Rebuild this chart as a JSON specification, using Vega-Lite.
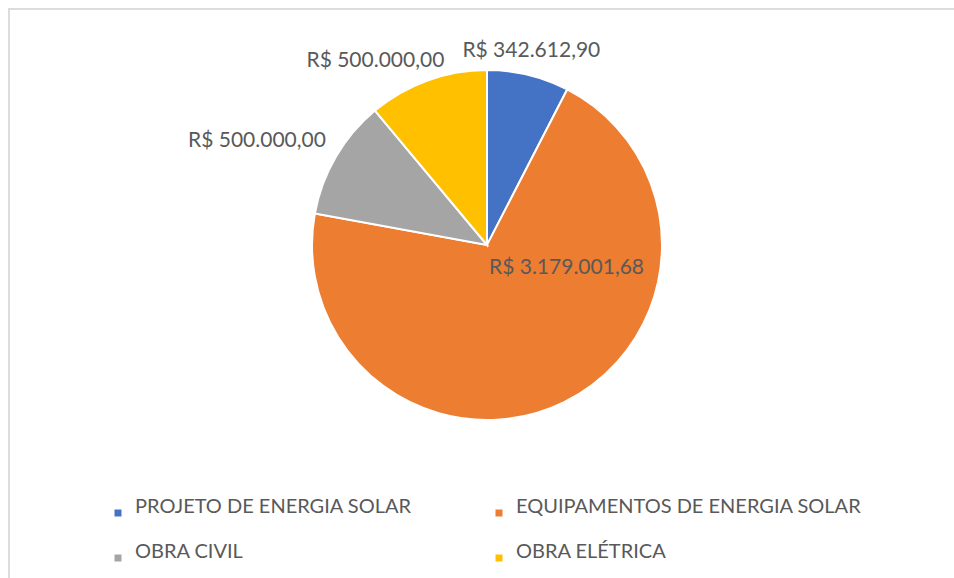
{
  "$schema": "https://vega.github.io/schema/vega-lite/v6.json",
  "width": 945,
  "height": 569,
  "autosize": {"type": "none"},
  "padding": {"left": 9, "top": 9, "right": 0, "bottom": 0},
  "background": "white",
  "view": {"stroke": "#dcdcdc", "strokeWidth": 2, "strokeDash": [945, 1514, 569, 20]},
  "config": {
    "font": "Lato",
    "view": {"stroke": "#dcdcdc", "strokeWidth": 2, "strokeDash": [945, 1514, 569, 20]},
    "locale": {"number": {"decimal": ",", "thousands": ".", "grouping": [3], "currency": ["R$ ", ""]}}
  },
  "data": {
    "values": [
      {"categoria": "PROJETO DE ENERGIA SOLAR", "valor": 342612.90},
      {"categoria": "EQUIPAMENTOS DE ENERGIA SOLAR", "valor": 3179001.68},
      {"categoria": "OBRA CIVIL", "valor": 500000.00},
      {"categoria": "OBRA ELÉTRICA", "valor": 500000.00}
    ]
  },
  "transform": [{"window": [{"op": "row_number", "as": "ordem"}]}],
  "encoding": {
    "theta": {"field": "valor", "type": "quantitative", "stack": true},
    "order": {"field": "ordem", "type": "quantitative"}
  },
  "layer": [
    {
      "mark": {"type": "arc", "outerRadius": 175, "stroke": "white", "strokeWidth": 2, "xOffset": 5.5, "yOffset": -48.5},
      "encoding": {
        "color": {
          "field": "categoria",
          "type": "nominal",
          "scale": {
            "domain": ["PROJETO DE ENERGIA SOLAR", "EQUIPAMENTOS DE ENERGIA SOLAR", "OBRA CIVIL", "OBRA ELÉTRICA"],
            "range": ["#4472C4", "#ED7D31", "#A5A5A5", "#FFC000"]
          },
          "legend": {
            "orient": "none",
            "legendX": 99,
            "legendY": 494,
            "direction": "horizontal",
            "columns": 2,
            "columnPadding": 77,
            "rowPadding": 25,
            "title": null,
            "symbolType": "square",
            "symbolSize": 49,
            "symbolStrokeWidth": 0,
            "labelFontSize": 20,
            "labelColor": "#595959",
            "labelFont": "Lato",
            "labelLimit": 600,
            "labelOffset": 7,
            "labelBaseline": "alphabetic",
            "padding": 0
          }
        }
      }
    },
    {
      "mark": {"type": "text", "radius": 205, "dx": 1.5, "dy": -43.3, "fontSize": 21, "fill": "#595959", "baseline": "middle"},
      "encoding": {
        "text": {"condition": {"test": "datum.categoria === 'PROJETO DE ENERGIA SOLAR'", "field": "valor", "type": "quantitative", "format": "$,.2f"}, "value": ""}
      }
    },
    {
      "mark": {"type": "text", "radius": 90, "dx": 45.3, "dy": -106.3, "fontSize": 21, "fill": "#595959", "baseline": "middle"},
      "encoding": {
        "text": {"condition": {"test": "datum.categoria === 'EQUIPAMENTOS DE ENERGIA SOLAR'", "field": "valor", "type": "quantitative", "format": "$,.2f"}, "value": ""}
      }
    },
    {
      "mark": {"type": "text", "radius": 205, "dx": -47.5, "dy": -49.1, "fontSize": 21, "fill": "#595959", "baseline": "middle"},
      "encoding": {
        "text": {"condition": {"test": "datum.categoria === 'OBRA CIVIL'", "field": "valor", "type": "quantitative", "format": "$,.2f"}, "value": ""}
      }
    },
    {
      "mark": {"type": "text", "radius": 205, "dx": -36.3, "dy": -39.8, "fontSize": 21, "fill": "#595959", "baseline": "middle"},
      "encoding": {
        "text": {"condition": {"test": "datum.categoria === 'OBRA ELÉTRICA'", "field": "valor", "type": "quantitative", "format": "$,.2f"}, "value": ""}
      }
    }
  ]
}
